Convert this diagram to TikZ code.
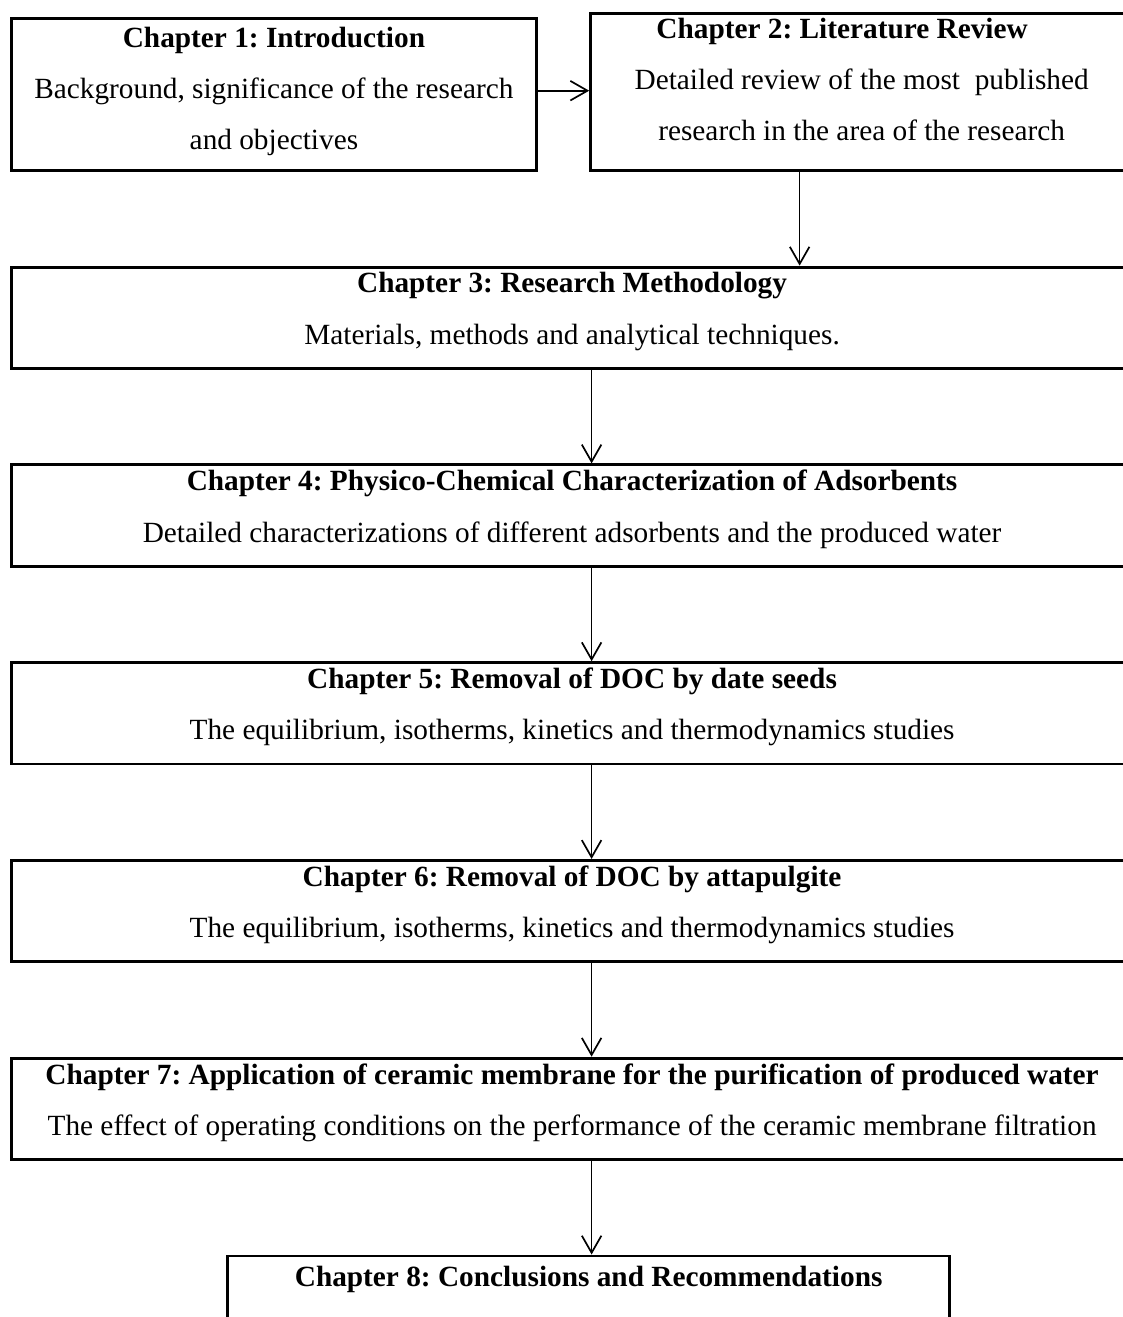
\documentclass[tikz,border=0pt]{standalone}
\usepackage{fontspec}
\setmainfont{Liberation Serif}
\frenchspacing
\usetikzlibrary{arrows.meta, positioning}
\tikzset{chapbox/.style={draw, line width=1.2pt, align=center, inner xsep=3pt, inner ysep=0pt, font=\fontsize{12pt}{21pt}\selectfont, minimum width=459.2pt, minimum height=41.5pt, execute at end node={\rule[-#1]{0pt}{0pt}}}, chapbox/.default=7.7pt}
\tikzset{flow/.style={->, line width=0.7pt}}

\begin{document}
\begin{tikzpicture}[>={Straight Barb[length=7pt,width=8pt]}, node distance=38.3pt]
\useasboundingbox (0,0) rectangle (459.6pt,-539.4pt);
\node[chapbox=5.3pt, minimum width=215pt, minimum height=62.3pt, anchor=north west] (ch1) at (4.1pt,-7pt) {\textbf{Chapter 1: Introduction}\\Background, significance of the research\\and objectives};
\node[chapbox=10.3pt, minimum width=222pt, minimum height=64.3pt, anchor=north west] (ch2) at (241.3pt,-4.9pt) {\textbf{Chapter 2: Literature Review}\hspace*{16pt}\\Detailed review of the most~ published\\research in the area of the research};
\node[chapbox, below=of ch1.south west, anchor=north west] (ch3) {\textbf{Chapter 3: Research Methodology}\\Materials, methods and analytical techniques.};
\node[chapbox, below=of ch3] (ch4) {\textbf{Chapter 4: Physico-Chemical Characterization of Adsorbents}\\Detailed characterizations of different adsorbents and the produced water};
\node[chapbox, below=of ch4] (ch5) {\textbf{Chapter 5: Removal of DOC by date seeds}\\The equilibrium, isotherms, kinetics and thermodynamics studies};
\node[chapbox, below=of ch5] (ch6) {\textbf{Chapter 6: Removal of DOC by attapulgite}\\The equilibrium, isotherms, kinetics and thermodynamics studies};
\node[chapbox, below=of ch6] (ch7) {\textbf{Chapter 7: Application of ceramic membrane for the purification of produced water}\\The effect of operating conditions on the performance of the ceramic membrane filtration};
\node[chapbox=3.5pt, minimum width=295.7pt, below=of ch7, xshift=6.8pt] (ch8) {\textbf{Chapter 8: Conclusions and Recommendations}\\\mbox{}};
\draw[flow] ([yshift=1.6pt]ch1.east) -- ([yshift=1.6pt]ch1.east -| ch2.west);
\coordinate (drop) at ([xshift=-25.4pt]ch2.south);
\draw[flow] (drop) -- (drop |- ch3.north);
\foreach \a/\b in {ch3/ch4, ch4/ch5, ch5/ch6, ch6/ch7, ch7/ch8}
  \draw[flow] ([xshift=8pt]\a.south) -- ([xshift=8pt]\a.south |- \b.north);
\end{tikzpicture}
\end{document}
